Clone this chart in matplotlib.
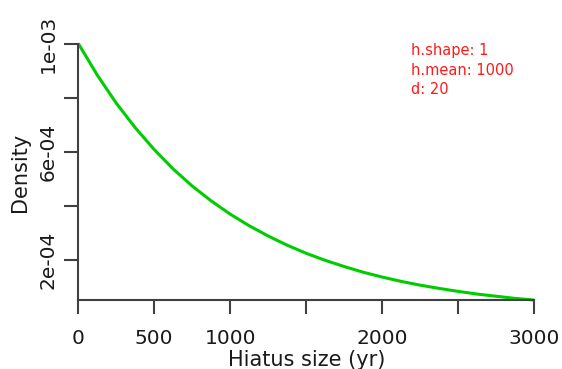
import matplotlib
matplotlib.use("Agg")
import matplotlib.pyplot as plt

# data
hiatus_yr = [0, 125, 250, 375, 500, 625, 750, 875, 1000, 1125, 1250, 1375, 1500,
             1625, 1750, 1875, 2000, 2125, 2250, 2375, 2500, 2625, 2750, 2875, 3000]
density = [1.000e-3, 8.83e-4, 7.79e-4, 6.88e-4, 6.07e-4, 5.35e-4, 4.72e-4, 4.17e-4,
           3.68e-4, 3.25e-4, 2.87e-4, 2.53e-4, 2.23e-4, 1.97e-4, 1.74e-4, 1.53e-4,
           1.35e-4, 1.19e-4, 1.05e-4, 9.3e-5, 8.2e-5, 7.2e-5, 6.4e-5, 5.6e-5, 5.0e-5]
x_ticks = [0, 500, 1000, 1500, 2000, 2500, 3000]
x_tick_labels = ["0", "500", "1000", "", "2000", "", "3000"]
y_ticks = [2e-4, 4e-4, 6e-4, 8e-4, 1e-3]
y_tick_labels = ["2e-04", "", "6e-04", "", "1e-03"]
info_lines = ["h.shape: 1", "h.mean: 1000", "d: 20"]

plt.rcParams['font.family'] = ['DejaVu Sans']

W, H = 562, 369
fig = plt.figure(figsize=(W / 100, H / 100), dpi=100)
x0, x1 = 78.3, 534.0
ytop, ybot = 43.5, 300.0
ax = fig.add_axes([x0 / W, 1 - ybot / H, (x1 - x0) / W, (ybot - ytop) / H])
ax.plot(hiatus_yr, density, color='#00CD00', lw=2.2, solid_capstyle='butt',
        solid_joinstyle='round', clip_on=False)
ax.set_xlim(0, 3000)
ax.set_ylim(min(density), max(density))

axcol = '#404040'
txtcol = '#1a1a1a'
for s in ['top', 'right']:
    ax.spines[s].set_visible(False)
for s in ['left', 'bottom']:
    ax.spines[s].set_color(axcol)
    ax.spines[s].set_linewidth(1.5)

ax.set_xticks(x_ticks)
ax.set_xticklabels(x_tick_labels, fontsize=14.5)
ax.set_yticks(y_ticks)
ax.set_yticklabels(y_tick_labels, fontsize=14.5, rotation=90, va='center')
ax.tick_params(axis='both', length=10, width=1.5, color=axcol, labelcolor=txtcol)
ax.tick_params(axis='x', pad=11)
ax.tick_params(axis='y', pad=5)

fig.text(307 / W, 1 - 360 / H, "Hiatus size (yr)", ha='center', va='center',
         fontsize=15, color=txtcol)
fig.text(20 / W, 1 - 172 / H, "Density", ha='center', va='center', rotation=90,
         fontsize=15, color=txtcol)

for i, t in enumerate(info_lines):
    fig.text(411 / W, 1 - (51 + 19.5 * i) / H, t, ha='left', va='center',
             fontsize=10.5, color='#FF1A1A')

fig.savefig("out.png", dpi=100)
